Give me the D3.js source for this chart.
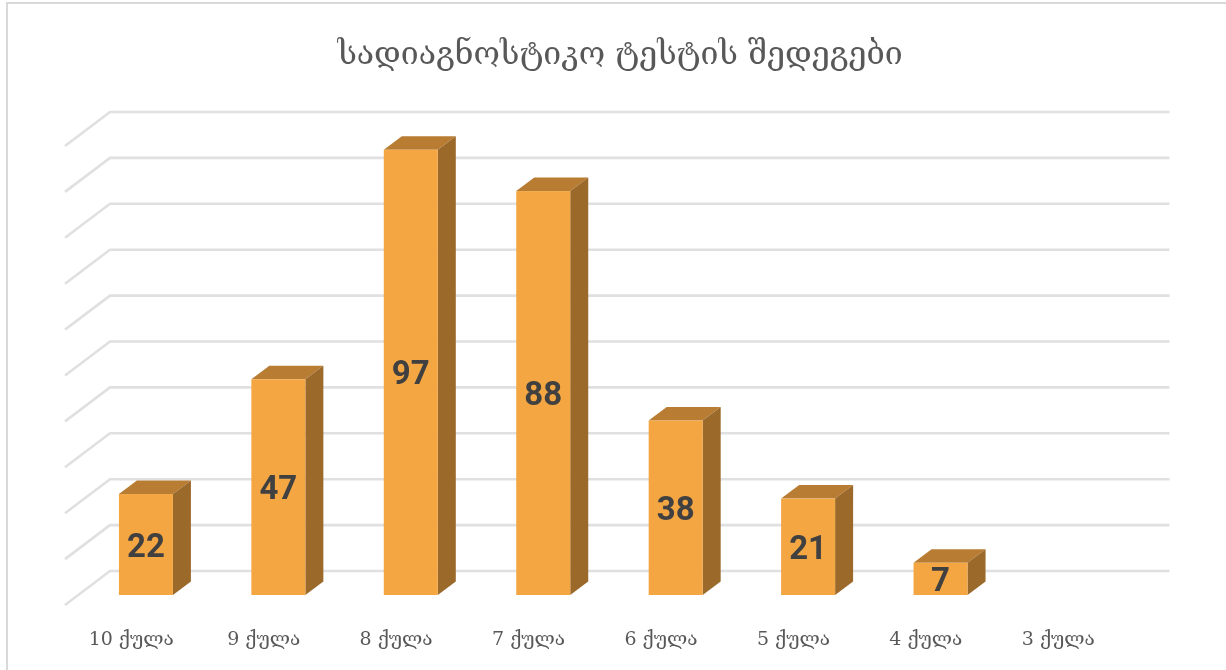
<!DOCTYPE html>
<html><head><meta charset="utf-8">
<script src="https://cdn.jsdelivr.net/npm/d3@7"></script>
<style>html,body{margin:0;background:#fff}svg{display:block}</style></head>
<body><svg id="c" width="1226" height="670"></svg>
<script>
const title = "სადიაგნოსტიკო ტესტის შედეგები";
const categories = ["10 ქულა","9 ქულა","8 ქულა","7 ქულა","6 ქულა","5 ქულა","4 ქულა","3 ქულა"];
const values = [22,47,97,88,38,21,7,null];
const gridTicks = [0,10,20,30,40,50,60,70,80,90,100];

const svg = d3.select("#c");
const x = d3.scaleBand().domain(categories).range([65,1124.5]);
const y = d3.scaleLinear().domain([0,100]).range([595,136]);
const floorDx=45, floorDy=34, barOffX=14.7, barDx=18, barDy=13.5, barW=54;
const soft = svg.append("defs").append("filter").attr("id","soft");
soft.append("feGaussianBlur").attr("stdDeviation",0.5);
const root = svg.append("g").attr("filter","url(#soft)");

// frame
root.append("path").attr("d","M7,670V3H1226").attr("fill","none").attr("stroke","#d9d9d9").attr("stroke-width",2);

// grid
const ticks = y.ticks(10);
const g = root.append("g").attr("fill","none").attr("stroke","#e0e0e0").attr("stroke-width",2.6);
g.selectAll("path").data(gridTicks).join("path")
 .attr("d",d=>{const Y=y(d)+10;return `M${x.range()[0]},${Y}L${x.range()[0]+floorDx},${Y-floorDy}H${x.range()[1]+floorDx}`;});

// bars
const bars = root.selectAll("g.b").data(categories.map((c,i)=>({c,v:values[i]})).filter(d=>d.v!=null)).join("g");
const left = d=>x(d.c)+x.bandwidth()/2+barOffX-barW/2;
bars.append("path").attr("fill","#B87C33").attr("d",d=>{const X=left(d),T=y(d.v);
 return `M${X},${T}l${barDx},${-barDy}h${barW}l${-barDx},${barDy}z`;});
bars.append("path").attr("fill","#9B692B").attr("d",d=>{const X=left(d)+barW,T=y(d.v);
 return `M${X},${T}l${barDx},${-barDy}V${y(0)-barDy}l${-barDx},${barDy}z`;});
bars.append("rect").attr("fill","#F4A643").attr("x",left).attr("y",d=>y(d.v)).attr("width",barW).attr("height",d=>y(0)-y(d.v));
bars.append("text").attr("x",d=>left(d)+barW/2).attr("y",d=>(y(d.v)+y(0))/2+12)
 .attr("text-anchor","middle").attr("font-family","Roboto, sans-serif").attr("font-weight",700)
 .attr("font-size",33).attr("fill","#404040").text(d=>d.v);

// category labels
root.selectAll("text.cat").data(categories).join("text").attr("class","cat")
 .attr("x",d=>x(d)+x.bandwidth()/2).attr("y",645).attr("text-anchor","middle")
 .attr("font-family","'DejaVu Serif','DejaVu Sans',serif").attr("font-size",19).attr("fill","#595959").text(d=>d);

// title
root.append("text").attr("x",620).attr("y",64).attr("text-anchor","middle")
 .attr("font-family","'DejaVu Serif','DejaVu Sans',serif").attr("font-size",32).attr("fill","#595959").text(title);
</script></body></html>
